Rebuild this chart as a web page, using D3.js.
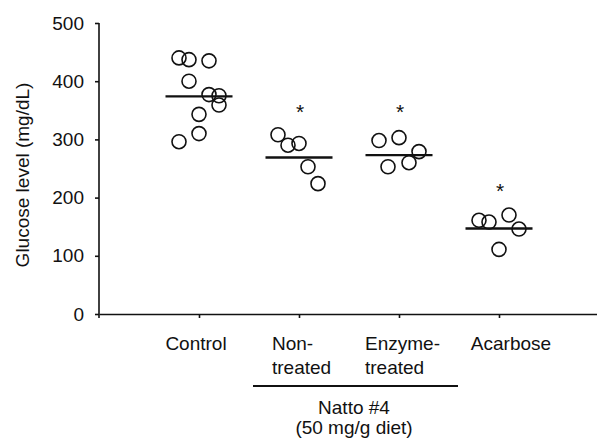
<!DOCTYPE html>
<html>
<head>
<meta charset="utf-8">
<script src="https://cdn.jsdelivr.net/npm/d3@7"></script>
<style>
  body { margin: 0; background: #fff; }
  svg text { font-family: "Liberation Sans", Arial, Helvetica, sans-serif; fill: #111; }
</style>
</head>
<body>
<svg id="chart" width="597" height="439"></svg>
<script>
// groups on the x axis
const categories = ["Control", "Non-treated", "Enzyme-treated", "Acarbose"];
const categoryLines = [["Control"], ["Non-", "treated"], ["Enzyme-", "treated"], ["Acarbose"]];

// individual glucose values (mg/dL) per group
const controlValues = [440, 437, 435, 400, 377, 375, 359, 343, 310, 296];
const nonTreatedValues = [308, 290, 293, 253, 224];
const enzymeValues = [298, 303, 279, 260, 253];
const acarboseValues = [161, 158, 170, 146, 111];

// horizontal jitter slot of each point (to avoid overlap)
const controlJitter = [-2, -1, 1, -1, 1, 2, 2, 0, 0, -2];
const nonTreatedJitter = [-2.1, -1.1, 0, 0.9, 1.9];
const enzymeJitter = [-2, 0, 2, 1, -1.1];
const acarboseJitter = [-2, -1, 1, 2, 0];

// group means (horizontal bars) and significance marks
const means = [374, 269, 273, 147];
const sigLevel = [null, 335, 335, 199];

const yTicks = [0, 100, 200, 300, 400, 500];

const groupValues = [controlValues, nonTreatedValues, enzymeValues, acarboseValues];
const groupJitter = [controlJitter, nonTreatedJitter, enzymeJitter, acarboseJitter];

const svg = d3.select("#chart");
const x0 = 99, yBottom = 314, yTop = 23;

const x = d3.scalePoint().domain(categories).range([x0, 599]).padding(1);
const y = d3.scaleLinear().domain([0, 500]).range([yBottom, yTop]);
const jitterStep = 10;

// y axis
const yAxis = svg.append("g")
    .attr("transform", `translate(${x0},0)`)
    .call(d3.axisLeft(y).tickValues(yTicks).tickSize(4).tickSizeOuter(0).tickPadding(11));
yAxis.select(".domain").attr("stroke", "#111").attr("stroke-width", 1.6)
    .attr("d", `M0,${y(500)}V${yBottom + 4}`);
yAxis.selectAll(".tick line").attr("stroke", "#111").attr("stroke-width", 1.6);
yAxis.selectAll(".tick text").style("font-size", "19px")
    .style("font-family", "'Liberation Sans', Arial, sans-serif").attr("fill", "#111");

// x axis
const xAxis = svg.append("g")
    .attr("transform", `translate(0,${yBottom})`)
    .call(d3.axisBottom(x).tickSize(4).tickSizeOuter(0).tickFormat(""));
xAxis.select(".domain").attr("stroke", "#111").attr("stroke-width", 1.6);
xAxis.selectAll(".tick line").attr("stroke", "#111").attr("stroke-width", 1.6);

// y axis title
svg.append("text")
    .attr("transform", `translate(29,175) rotate(-90)`)
    .attr("text-anchor", "middle")
    .style("font-size", "19px")
    .text("Glucose level (mg/dL)");

// category labels
const labelDx = [-3, -27, -34, 12];
const labelAnchor = ["middle", "start", "start", "middle"];
categoryLines.forEach((lines, i) => {
    const t = svg.append("text")
        .attr("x", x(categories[i]) + labelDx[i])
        .attr("y", 350)
        .attr("text-anchor", labelAnchor[i])
        .style("font-size", "19px");
    lines.forEach((ln, j) => {
        t.append("tspan")
            .attr("x", x(categories[i]) + labelDx[i])
            .attr("dy", j === 0 ? 0 : 24)
            .text(ln);
    });
});

// bracket for Natto groups
svg.append("line")
    .attr("x1", 253).attr("x2", 458)
    .attr("y1", 386).attr("y2", 386)
    .attr("stroke", "#111").attr("stroke-width", 2.2);
svg.append("text")
    .attr("x", 354).attr("y", 414)
    .attr("text-anchor", "middle")
    .style("font-size", "19px")
    .text("Natto #4");
svg.append("text")
    .attr("x", 354).attr("y", 434)
    .attr("text-anchor", "middle")
    .style("font-size", "19px")
    .text("(50 mg/g diet)");

// points
const points = [];
groupValues.forEach((vals, i) => {
    vals.forEach((v, j) => points.push({ cat: categories[i], value: v, jit: groupJitter[i][j] }));
});

svg.append("g").selectAll("circle")
    .data(points)
    .join("circle")
    .attr("cx", d => x(d.cat) + d.jit * jitterStep)
    .attr("cy", d => y(d.value))
    .attr("r", 7)
    .attr("fill", "none")
    .attr("stroke", "#111")
    .attr("stroke-width", 1.6);

// mean bars
svg.append("g").selectAll("line")
    .data(means)
    .join("line")
    .attr("x1", (d, i) => x(categories[i]) - 33.5)
    .attr("x2", (d, i) => x(categories[i]) + 33.5)
    .attr("y1", d => y(d))
    .attr("y2", d => y(d))
    .attr("stroke", "#111")
    .attr("stroke-width", 2.4);

// significance asterisks
svg.append("g").selectAll("text")
    .data(sigLevel.map((s, i) => ({ s, cat: categories[i] })).filter(d => d.s !== null))
    .join("text")
    .attr("x", d => x(d.cat) + 1)
    .attr("y", d => y(d.s))
    .attr("text-anchor", "middle")
    .style("font-size", "21px")
    .text("*");
</script>
</body>
</html>
